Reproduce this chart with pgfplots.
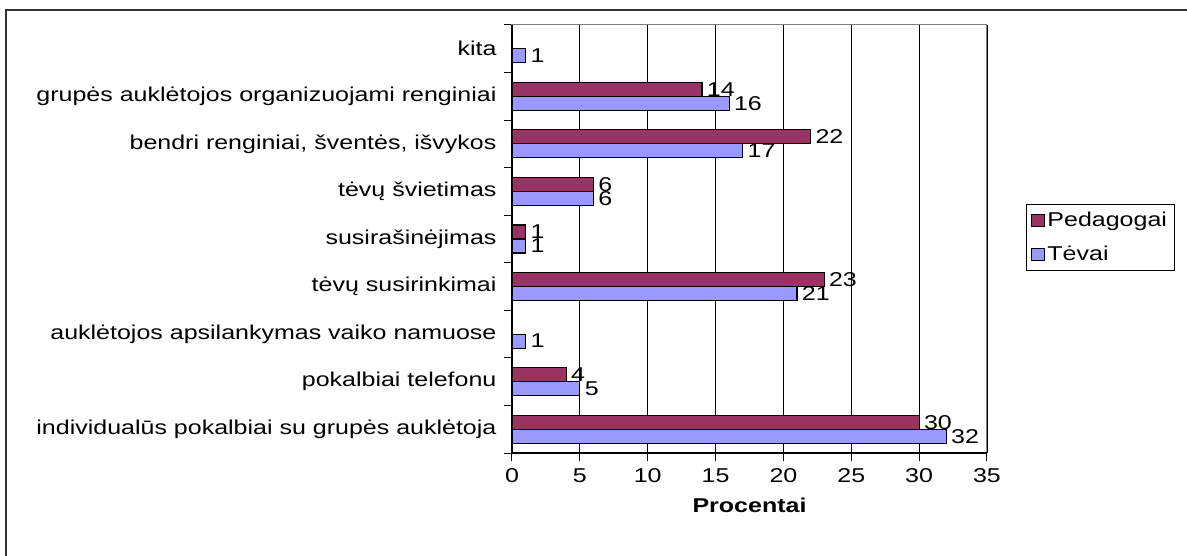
\documentclass[border=0pt]{standalone}
\usepackage{pgfplots}
\pgfplotsset{compat=1.18}
\usepackage{fontspec}
\setmainfont[FakeStretch=1.25]{Liberation Sans}
\definecolor{ped}{HTML}{993366}
\definecolor{tev}{HTML}{9999FF}
\newcommand{\cf}{\fontsize{20}{24}\selectfont}
\begin{document}
\begin{tikzpicture}[x=1pt,y=1pt]
\path[use as bounding box] (0,0) rectangle (1187,555);
\draw[line width=2pt, black!80] (6,-10) -- (6,545) -- (1200,545);
\begin{axis}[
  at={(512pt,102pt)}, anchor=south west,
  scale only axis, width=475pt, height=428pt,
  xbar, bar width=14pt,
  clip=false,
  xmin=0, xmax=35, ymin=0.5, ymax=9.5,
  xtick={0,5,...,35},
  ytick={1,...,9},
  yticklabels={individualūs pokalbiai su grupės auklėtoja, pokalbiai telefonu, auklėtojos apsilankymas vaiko namuose, tėvų susirinkimai, susirašinėjimas, tėvų švietimas, {bendri renginiai, šventės, išvykos}, grupės auklėtojos organizuojami renginiai, kita},
  minor ytick={0.5,1.5,...,9.5},
  every major y tick/.style={draw=none},
  every minor y tick/.style={black, line width=1pt},
  every major x tick/.style={black, line width=1pt},
  major tick length=8pt, minor tick length=8pt,
  tick align=outside,
  xtick pos=bottom, ytick pos=left,
  xmajorgrids,
  major grid style={black, line width=0.8pt},
  axis line style={gray, line width=1pt},
  /pgf/number format/assume math mode=true,
  tick label style={font=\cf},
  yticklabel style={xshift=-4pt},
  xticklabel style={yshift=-4pt},
  xlabel={\textbf{Procentai}},
  xlabel style={font=\cf, yshift=-8pt},
  nodes near coords,
  nodes near coords style={font=\cf, anchor=west, xshift=1pt, black},
  legend style={at={(1.082,0.582)}, anchor=north west, draw=black, line width=1pt, font=\cf, row sep=14pt, inner xsep=5pt, inner ysep=6pt},
  legend cell align=left,
  legend image code/.code={\draw[#1, line width=1pt] (0pt,-6pt) rectangle (13pt,6pt);},
  after end axis/.code={
    \draw[black, line width=1.2pt] (rel axis cs:0,1) -- (rel axis cs:0,0) -- (rel axis cs:1,0);
  },
]
\addplot[fill=ped, draw=black, line width=1.2pt, bar shift=7pt] coordinates {
  (30,1) (4,2) (23,4) (1,5) (6,6) (22,7) (14,8)
};
\addplot[fill=tev, draw=black, line width=1.2pt, bar shift=-7pt] coordinates {
  (32,1) (5,2) (1,3) (21,4) (1,5) (6,6) (17,7) (16,8) (1,9)
};
\legend{Pedagogai, Tėvai}
\end{axis}
\end{tikzpicture}
\end{document}
